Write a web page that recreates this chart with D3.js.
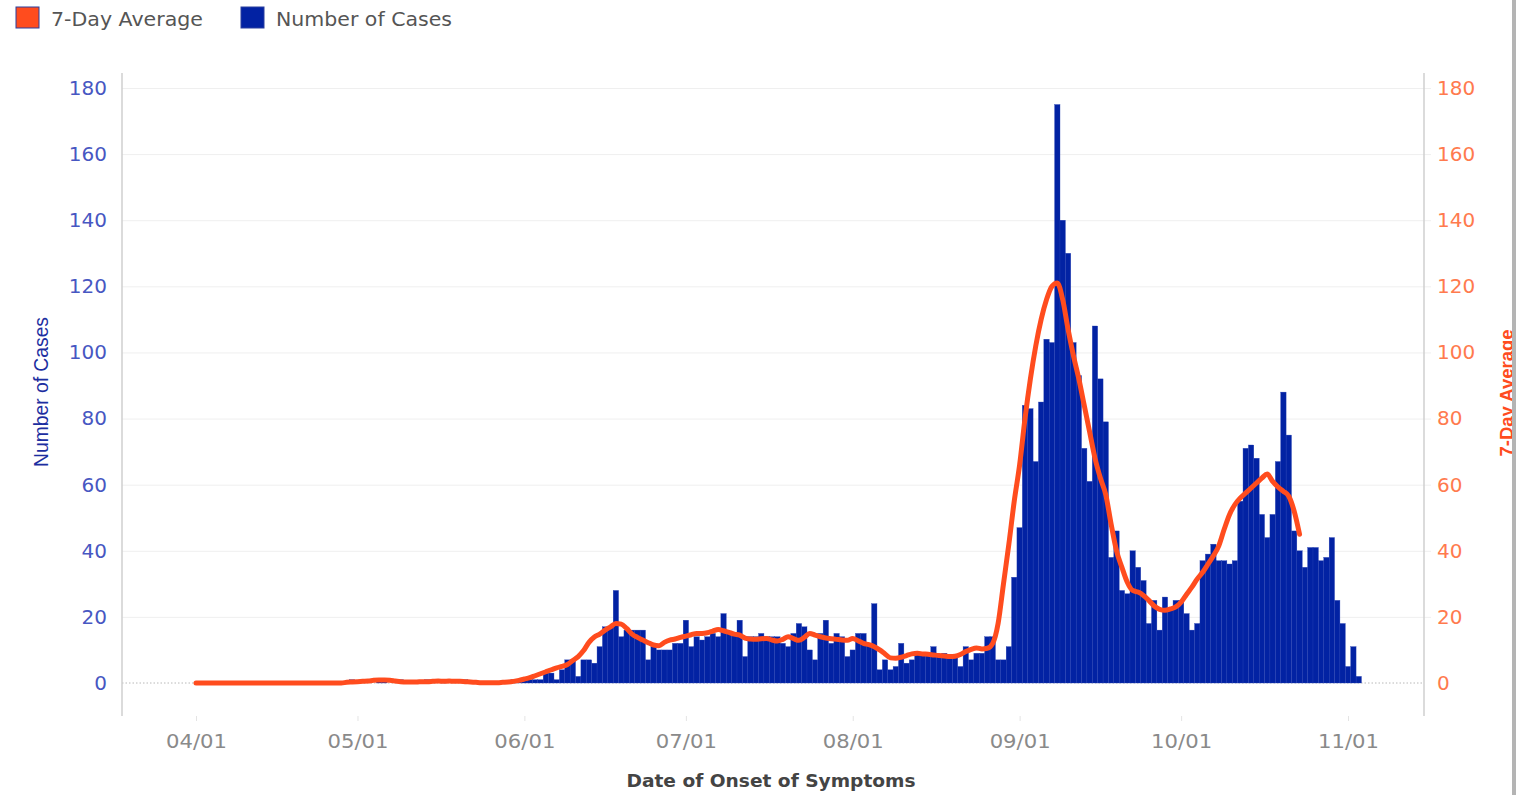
<html>
<head>
<meta charset="UTF-8">
<title>Cases by Date of Onset</title>
<script src="https://d3js.org/d3.v7.min.js"></script>
<style>
  body { margin: 0; background: #fff; }
  svg { display: block; }
</style>
</head>
<body>
<svg width="1516" height="795"></svg>
<script type="text/javascript">
// first day of the series
var startDay = new Date(2020, 3, 1);

// daily case counts, by month
var casesApr = [0,0,0,0,0,0,0,0,0,0,0,0,0,0,0,0,0,0,0,0,0,0,0,0,0,0,0,0,0,1];
var casesMay = [0,0,0,0,1,1,0,0,1,0,0,0,0,1,0,0,1,0,0,0,1,0,0,0,0,0,0,0,0,1,1];
var casesJun = [1,1,1,1,3,3,1,4,7,7,2,7,7,6,11,17,17,28,14,16,16,16,16,7,11,10,10,10,12,12];
var casesJul = [19,11,14,13,14,15,14,21,15,15,19,8,14,14,15,14,14,14,12,11,15,18,17,10,7,15,19,12,15,14,8];
var casesAug = [10,15,15,12,24,4,7,4,5,12,6,7,9,9,9,11,8,9,8,8,5,11,7,9,9,14,14,7,7,11,32];
var casesSep = [47,84,83,67,85,104,103,175,140,130,103,93,71,61,108,92,79,38,46,28,27,40,35,31,18,25,16,26,22,25];
var casesOct = [25,21,16,18,37,39,42,37,37,36,37,55,71,72,68,51,44,51,67,88,75,46,40,35,41,41,37,38,44,25,18];
var casesNov = [5,11,2];

// 7-day average
var avgApr = [0,0,0,0,0,0,0,0,0,0,0,0,0,0,0,0,0,0,0,0,0,0,0,0,0,0,0,0,0.2,0.3];
var avgMay = [0.4,0.5,0.6,0.8,0.9,0.9,0.8,0.6,0.4,0.3,0.3,0.3,0.4,0.4,0.5,0.6,0.5,0.6,0.5,0.5,0.4,0.3,0.2,0.1,0.1,0.1,0.1,0.2,0.3,0.5,0.8];
var avgJun = [1.2,1.6,2.2,2.8,3.4,4.0,4.6,5.0,5.6,6.8,8.0,9.8,12.3,13.9,14.8,16,17,18,17.8,16.5,14.8,13.8,13,12.2,11.5,11.3,12.3,13,13.3,13.8];
var avgJul = [14.2,14.6,15,15,15.2,15.7,16.2,15.8,15.3,14.8,14.5,13.6,13.3,13.2,13.4,13.5,13,12.7,13.2,14,13.4,12.9,13.8,15,14.5,14,13.6,13.4,13.2,13,12.9];
var avgAug = [13.5,12.8,12,11.6,11,10,8.8,7.6,7.5,7.8,8.3,8.8,9,8.8,8.7,8.5,8.3,8.2,8,8.1,8.6,9.5,10.2,10.6,10.3,10.5,12,18,30,42,55];
var avgSep = [66,80,92,102,110,116,120,121,116,107,99,92,84,76,68,62,57,48,40,35,30.5,28,27.5,26.5,25,23.3,22.3,22,22.4,23];
var avgOct = [24.5,26.8,29,31.5,33.5,36,38.5,41.5,46.5,51,54,56,57.5,59,60.5,62,63.2,61,59.3,58,56.5,52,45];

var xTickLabels = ["04/01","05/01","06/01","07/01","08/01","09/01","10/01","11/01"];
var yTicks = [0,20,40,60,80,100,120,140,160,180];

var cases = [].concat(casesApr, casesMay, casesJun, casesJul, casesAug, casesSep, casesOct, casesNov);
var avg7 = [].concat(avgApr, avgMay, avgJun, avgJul, avgAug, avgSep, avgOct);

var barData = cases.map(function(v, i){ return {date: d3.timeDay.offset(startDay, i), value: v}; });
var lineData = avg7.map(function(v, i){ return {date: d3.timeDay.offset(startDay, i), value: v}; });

var plot = { left: 122, right: 1424, top: 73, bottom: 716 };
var blue = "#0222a3";
var orange = "#ff4c1e";

var parseTick = d3.timeParse("%m/%d/%Y");
var tickDates = xTickLabels.map(function(t){ return parseTick(t + "/2020"); });

var xScale = d3.scaleTime()
    .domain([startDay, tickDates[tickDates.length - 1]])
    .range([196, 1348]);
var yScale = d3.scaleLinear()
    .domain([0, 180])
    .range([683, 88]);
var step = xScale(d3.timeDay.offset(startDay, 1)) - xScale(startDay);

var svg = d3.select("svg");

// gridlines
svg.append("g")
   .attr("transform", "translate(" + plot.left + ",0)")
   .call(d3.axisLeft(yScale).tickValues(yTicks.slice(1)).tickSize(-(1431 - plot.left)).tickFormat(""))
   .call(function(g){
      g.select(".domain").remove();
      g.selectAll("line").attr("stroke", "#efefef").attr("stroke-width", 1);
   });

// zero line, dotted
svg.append("line")
   .attr("x1", plot.left).attr("x2", plot.right)
   .attr("y1", yScale(0)).attr("y2", yScale(0))
   .attr("stroke", "#b8b8b8").attr("stroke-width", 1)
   .attr("stroke-dasharray", "1.5,2");

// bars
svg.append("g")
   .selectAll("rect")
   .data(barData)
   .enter()
   .append("rect")
   .attr("x", function(d){ return xScale(d.date) - step / 2; })
   .attr("y", function(d){ return yScale(d.value); })
   .attr("width", step)
   .attr("height", function(d){ return yScale(0) - yScale(d.value); })
   .attr("fill", blue)
   .attr("stroke", "#2640b4")
   .attr("stroke-width", 0.35);

// 7-day average line
var line = d3.line()
   .x(function(d){ return xScale(d.date); })
   .y(function(d){ return yScale(d.value); })
   .curve(d3.curveMonotoneX);

svg.append("path")
   .datum(lineData)
   .attr("d", line)
   .attr("fill", "none")
   .attr("stroke", orange)
   .attr("stroke-width", 5)
   .attr("stroke-linejoin", "round")
   .attr("stroke-linecap", "round");

// axis frame lines
svg.append("line")
   .attr("x1", plot.left).attr("x2", plot.left)
   .attr("y1", plot.top).attr("y2", plot.bottom)
   .attr("stroke", "#cfcfcf").attr("stroke-width", 1.5);
svg.append("line")
   .attr("x1", plot.right).attr("x2", plot.right)
   .attr("y1", plot.top).attr("y2", plot.bottom)
   .attr("stroke", "#cfcfcf").attr("stroke-width", 1.5);

// left axis
svg.append("g")
   .attr("transform", "translate(" + plot.left + ",0)")
   .call(d3.axisLeft(yScale).tickValues(yTicks).tickSize(0).tickPadding(15))
   .call(function(g){
      g.select(".domain").remove();
      g.selectAll("text")
       .attr("fill", "#4757c2")
       .style("font-family", "DejaVu Sans")
       .style("font-size", "20px");
   });

// right axis
svg.append("g")
   .attr("transform", "translate(" + plot.right + ",0)")
   .call(d3.axisRight(yScale).tickValues(yTicks).tickSize(0).tickPadding(13))
   .call(function(g){
      g.select(".domain").remove();
      g.selectAll("text")
       .attr("fill", "#ff7a4e")
       .style("font-family", "DejaVu Sans")
       .style("font-size", "20px");
   });

// x axis
svg.append("g")
   .attr("transform", "translate(0," + plot.bottom + ")")
   .call(d3.axisBottom(xScale).tickValues(tickDates).tickSize(5).tickPadding(13)
         .tickFormat(function(d, i){ return xTickLabels[i]; }))
   .call(function(g){
      g.select(".domain").remove();
      g.selectAll("line").attr("stroke", "#e4e4e4");
      g.selectAll("text")
       .attr("fill", "#8a8a8a")
       .attr("textLength", 61)
       .attr("lengthAdjust", "spacingAndGlyphs")
       .style("font-family", "DejaVu Sans")
       .style("font-size", "20px");
   });

// axis titles
svg.append("text")
   .attr("x", 771).attr("y", 787)
   .attr("text-anchor", "middle")
   .attr("fill", "#444")
   .attr("textLength", 289)
   .attr("lengthAdjust", "spacingAndGlyphs")
   .style("font-family", "DejaVu Sans")
   .style("font-weight", "bold")
   .style("font-size", "17px")
   .text("Date of Onset of Symptoms");

svg.append("text")
   .attr("transform", "translate(48,392) rotate(-90)")
   .attr("text-anchor", "middle")
   .attr("fill", "#1c2ea0")
   .attr("textLength", 150)
   .attr("lengthAdjust", "spacingAndGlyphs")
   .style("font-family", "Liberation Sans Narrow, Liberation Sans")
   .style("font-size", "21px")
   .text("Number of Cases");

svg.append("text")
   .attr("transform", "translate(1513,393) rotate(-90)")
   .attr("text-anchor", "middle")
   .attr("fill", orange)
   .attr("textLength", 127)
   .attr("lengthAdjust", "spacingAndGlyphs")
   .style("font-family", "Liberation Sans Narrow, Liberation Sans")
   .style("font-weight", "bold")
   .style("font-size", "19px")
   .text("7-Day Average");

// right edge band
svg.append("rect")
   .attr("x", 1512).attr("y", 0)
   .attr("width", 4).attr("height", 795)
   .attr("fill", "#b4b4b4");

// legend
var legendItems = [
   {name: "7-Day Average", color: orange, x: 16, w: 152},
   {name: "Number of Cases", color: blue, x: 241, w: 176}
];
var legend = svg.append("g").selectAll("g")
   .data(legendItems)
   .enter()
   .append("g")
   .attr("transform", function(d){ return "translate(" + d.x + ",7)"; });
legend.append("rect")
   .attr("width", 23).attr("height", 21)
   .attr("fill", function(d){ return d.color; })
   .attr("stroke", "#2b3f9e").attr("stroke-width", 1);
legend.append("text")
   .attr("x", 35).attr("y", 19)
   .attr("fill", "#555")
   .attr("textLength", function(d){ return d.w; })
   .attr("lengthAdjust", "spacingAndGlyphs")
   .style("font-family", "DejaVu Sans")
   .style("font-size", "19.5px")
   .text(function(d){ return d.name; });
</script>
</body>
</html>
